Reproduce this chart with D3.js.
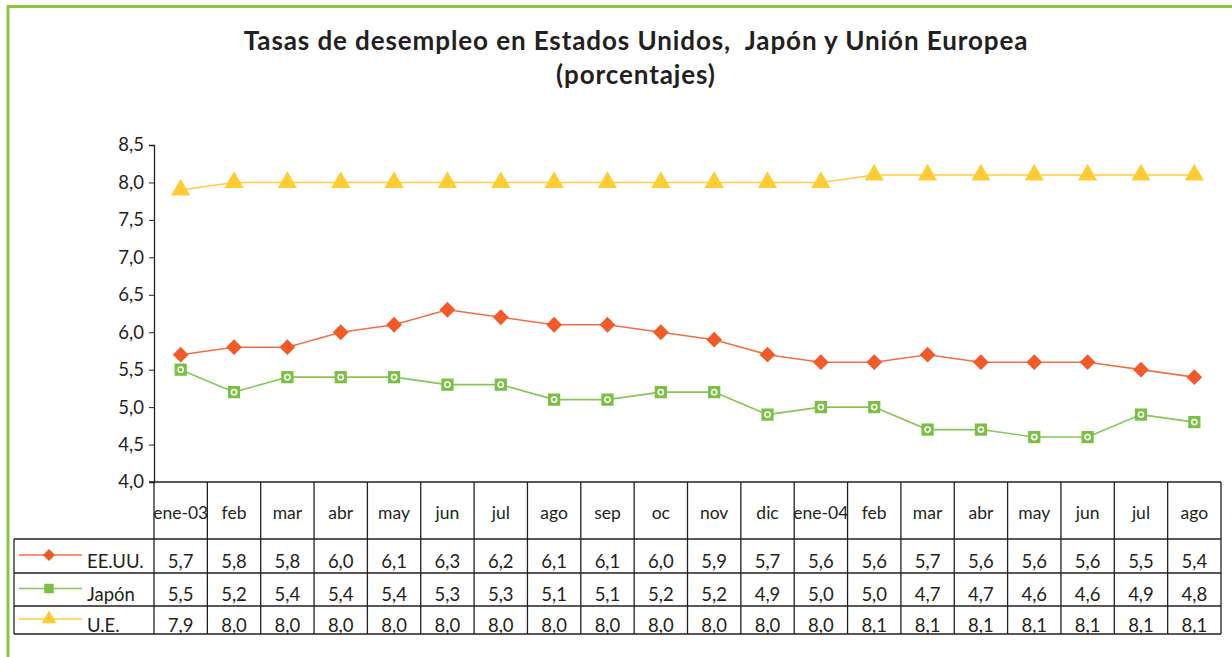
<!DOCTYPE html>
<meta charset="utf-8">
<head>
  <title>Tasas de desempleo</title>
</head>

<style>
body { margin: 0; background: #fff; }
text { font-family: Lato, "Open Sans", sans-serif; fill: #231f20; }
.title { font-weight: 700; font-size: 26px; letter-spacing: 0.9px; white-space: pre; }
.grid line, .grid path { stroke: #231f20; }
</style>

<body>
  <svg width="1232" height="657"></svg>

  <script src="https://cdn.jsdelivr.net/npm/d3@7"></script>
  <script>
var months = ["ene-03", "feb", "mar", "abr", "may", "jun", "jul", "ago", "sep", "oc",
  "nov", "dic", "ene-04", "feb", "mar", "abr", "may", "jun", "jul", "ago"];
var seriesNames = ["EE.UU.", "Japón", "U.E."];
var eeuu = [5.7, 5.8, 5.8, 6.0, 6.1, 6.3, 6.2, 6.1, 6.1, 6.0, 5.9, 5.7, 5.6, 5.6, 5.7, 5.6, 5.6, 5.6, 5.5, 5.4];
var japon = [5.5, 5.2, 5.4, 5.4, 5.4, 5.3, 5.3, 5.1, 5.1, 5.2, 5.2, 4.9, 5.0, 5.0, 4.7, 4.7, 4.6, 4.6, 4.9, 4.8];
var ue = [7.9, 8.0, 8.0, 8.0, 8.0, 8.0, 8.0, 8.0, 8.0, 8.0, 8.0, 8.0, 8.0, 8.1, 8.1, 8.1, 8.1, 8.1, 8.1, 8.1];
var yTicks = [4.0, 4.5, 5.0, 5.5, 6.0, 6.5, 7.0, 7.5, 8.0, 8.5];

var colors = ["#f15a29", "#7ac143", "#ffcc33"];
var lineColors = ["#f26f45", "#86c655", "#ffcc44"];
var allSeries = [eeuu, japon, ue];

var svg = d3.select("svg");
var fmt = d3.formatLocale({decimal: ",", thousands: ".", grouping: [3], currency: ["", ""]}).format(".1f");

// green frame
svg.append("path")
  .attr("d", "M8,700 V6.5 H1240")
  .attr("fill", "none")
  .attr("stroke", "#8cc63f")
  .attr("stroke-width", 3);

svg.append("text").attr("class", "title")
  .attr("x", 636).attr("y", 50).attr("text-anchor", "middle")
  .text("Tasas de desempleo en Estados Unidos,  Japón y Unión Europea");
svg.append("text").attr("class", "title")
  .attr("x", 636).attr("y", 84).attr("text-anchor", "middle")
  .text("(porcentajes)");

var plotLeft = 154, plotRight = 1221, plotTop = 145, plotBottom = 482;
var x = d3.scaleBand().domain(d3.range(months.length)).range([plotLeft, plotRight]);
var y = d3.scaleLinear().domain([4, 8.5]).range([plotBottom, plotTop]);

// y axis
var yAxis = svg.append("g").attr("class", "grid")
  .attr("transform", "translate(" + plotLeft + ",0)")
  .call(d3.axisLeft(y).tickValues(yTicks).tickSize(5).tickFormat(fmt));
yAxis.selectAll("text").style("font-size", "18.5px").attr("x", -10);
yAxis.select(".domain").attr("stroke-width", 1.3);

// data table
var rowTops = [539, 573, 606];
var rowBottom = 634;
var tableLeft = 14;
var g = svg.append("g").attr("class", "grid");
var ln = function(x1, y1, x2, y2) {
  g.append("line").attr("x1", x1).attr("y1", y1).attr("x2", x2).attr("y2", y2)
    .attr("stroke", "#231f20").attr("stroke-width", 1.3);
};
ln(plotLeft - 5, plotBottom, plotRight, plotBottom);
rowTops.forEach(function(r) { ln(tableLeft, r, plotRight, r); });
ln(tableLeft, rowBottom, plotRight, rowBottom);
ln(tableLeft, rowTops[0], tableLeft, rowBottom);
d3.range(months.length + 1).forEach(function(i) {
  var xx = i < months.length ? x(i) : plotRight;
  ln(xx, plotBottom, xx, rowBottom);
});

svg.selectAll(".cat").data(months).enter().append("text")
  .attr("x", function(d, i) { return x(i) + x.bandwidth() / 2; })
  .attr("y", 519)
  .attr("text-anchor", "middle")
  .style("font-size", "17.5px")
  .text(function(d) { return d; });

var rowText = [568, 601, 632];
allSeries.forEach(function(s, k) {
  svg.selectAll(".v" + k).data(s).enter().append("text")
    .attr("x", function(d, i) { return x(i) + x.bandwidth() / 2; })
    .attr("y", rowText[k])
    .attr("text-anchor", "middle")
    .style("font-size", "18.5px")
    .text(function(d) { return fmt(d); });
});

// markers: diamond is a square turned 45 degrees
var symbols = [d3.symbolSquare, d3.symbolSquare, d3.symbolTriangle];
var sizes = [125, 150, 160];
var rotations = [45, 0, 0];
function drawMarker(sel, k) {
  sel.append("path")
    .attr("d", d3.symbol().type(symbols[k]).size(sizes[k]))
    .attr("transform", "rotate(" + rotations[k] + ")")
    .attr("fill", colors[k]);
  if (k === 1) {
    sel.append("circle").attr("r", 2.6).attr("fill", "none")
      .attr("stroke", "#fff").attr("stroke-width", 1.6);
  }
}

// legend in table
seriesNames.forEach(function(name, k) {
  var cy = (rowTops[k] + (k < 2 ? rowTops[k + 1] : rowBottom)) / 2 - 1;
  svg.append("line").attr("x1", 19).attr("x2", 82).attr("y1", cy).attr("y2", cy)
    .attr("stroke", lineColors[k]).attr("stroke-width", 1.3);
  svg.append("path")
    .attr("d", d3.symbol().type(symbols[k]).size(sizes[k] * 0.6))
    .attr("transform", "translate(49," + cy + ") rotate(" + rotations[k] + ")")
    .attr("fill", colors[k]);
  svg.append("text").attr("x", 87).attr("y", rowText[k])
    .style("font-size", "18.5px").text(name);
});

// lines
var line = d3.line()
  .x(function(d, i) { return x(i) + x.bandwidth() / 2; })
  .y(function(d) { return y(d); });
allSeries.forEach(function(s, k) {
  svg.append("path").datum(s)
    .attr("d", line)
    .attr("fill", "none")
    .attr("stroke", lineColors[k])
    .attr("stroke-width", 1.6);
  svg.selectAll(".m" + k).data(s).enter().append("g")
    .attr("transform", function(d, i) {
      return "translate(" + (x(i) + x.bandwidth() / 2) + "," + y(d) + ")";
    })
    .each(function() { drawMarker(d3.select(this), k); });
});
  </script>
</body>
</html>
